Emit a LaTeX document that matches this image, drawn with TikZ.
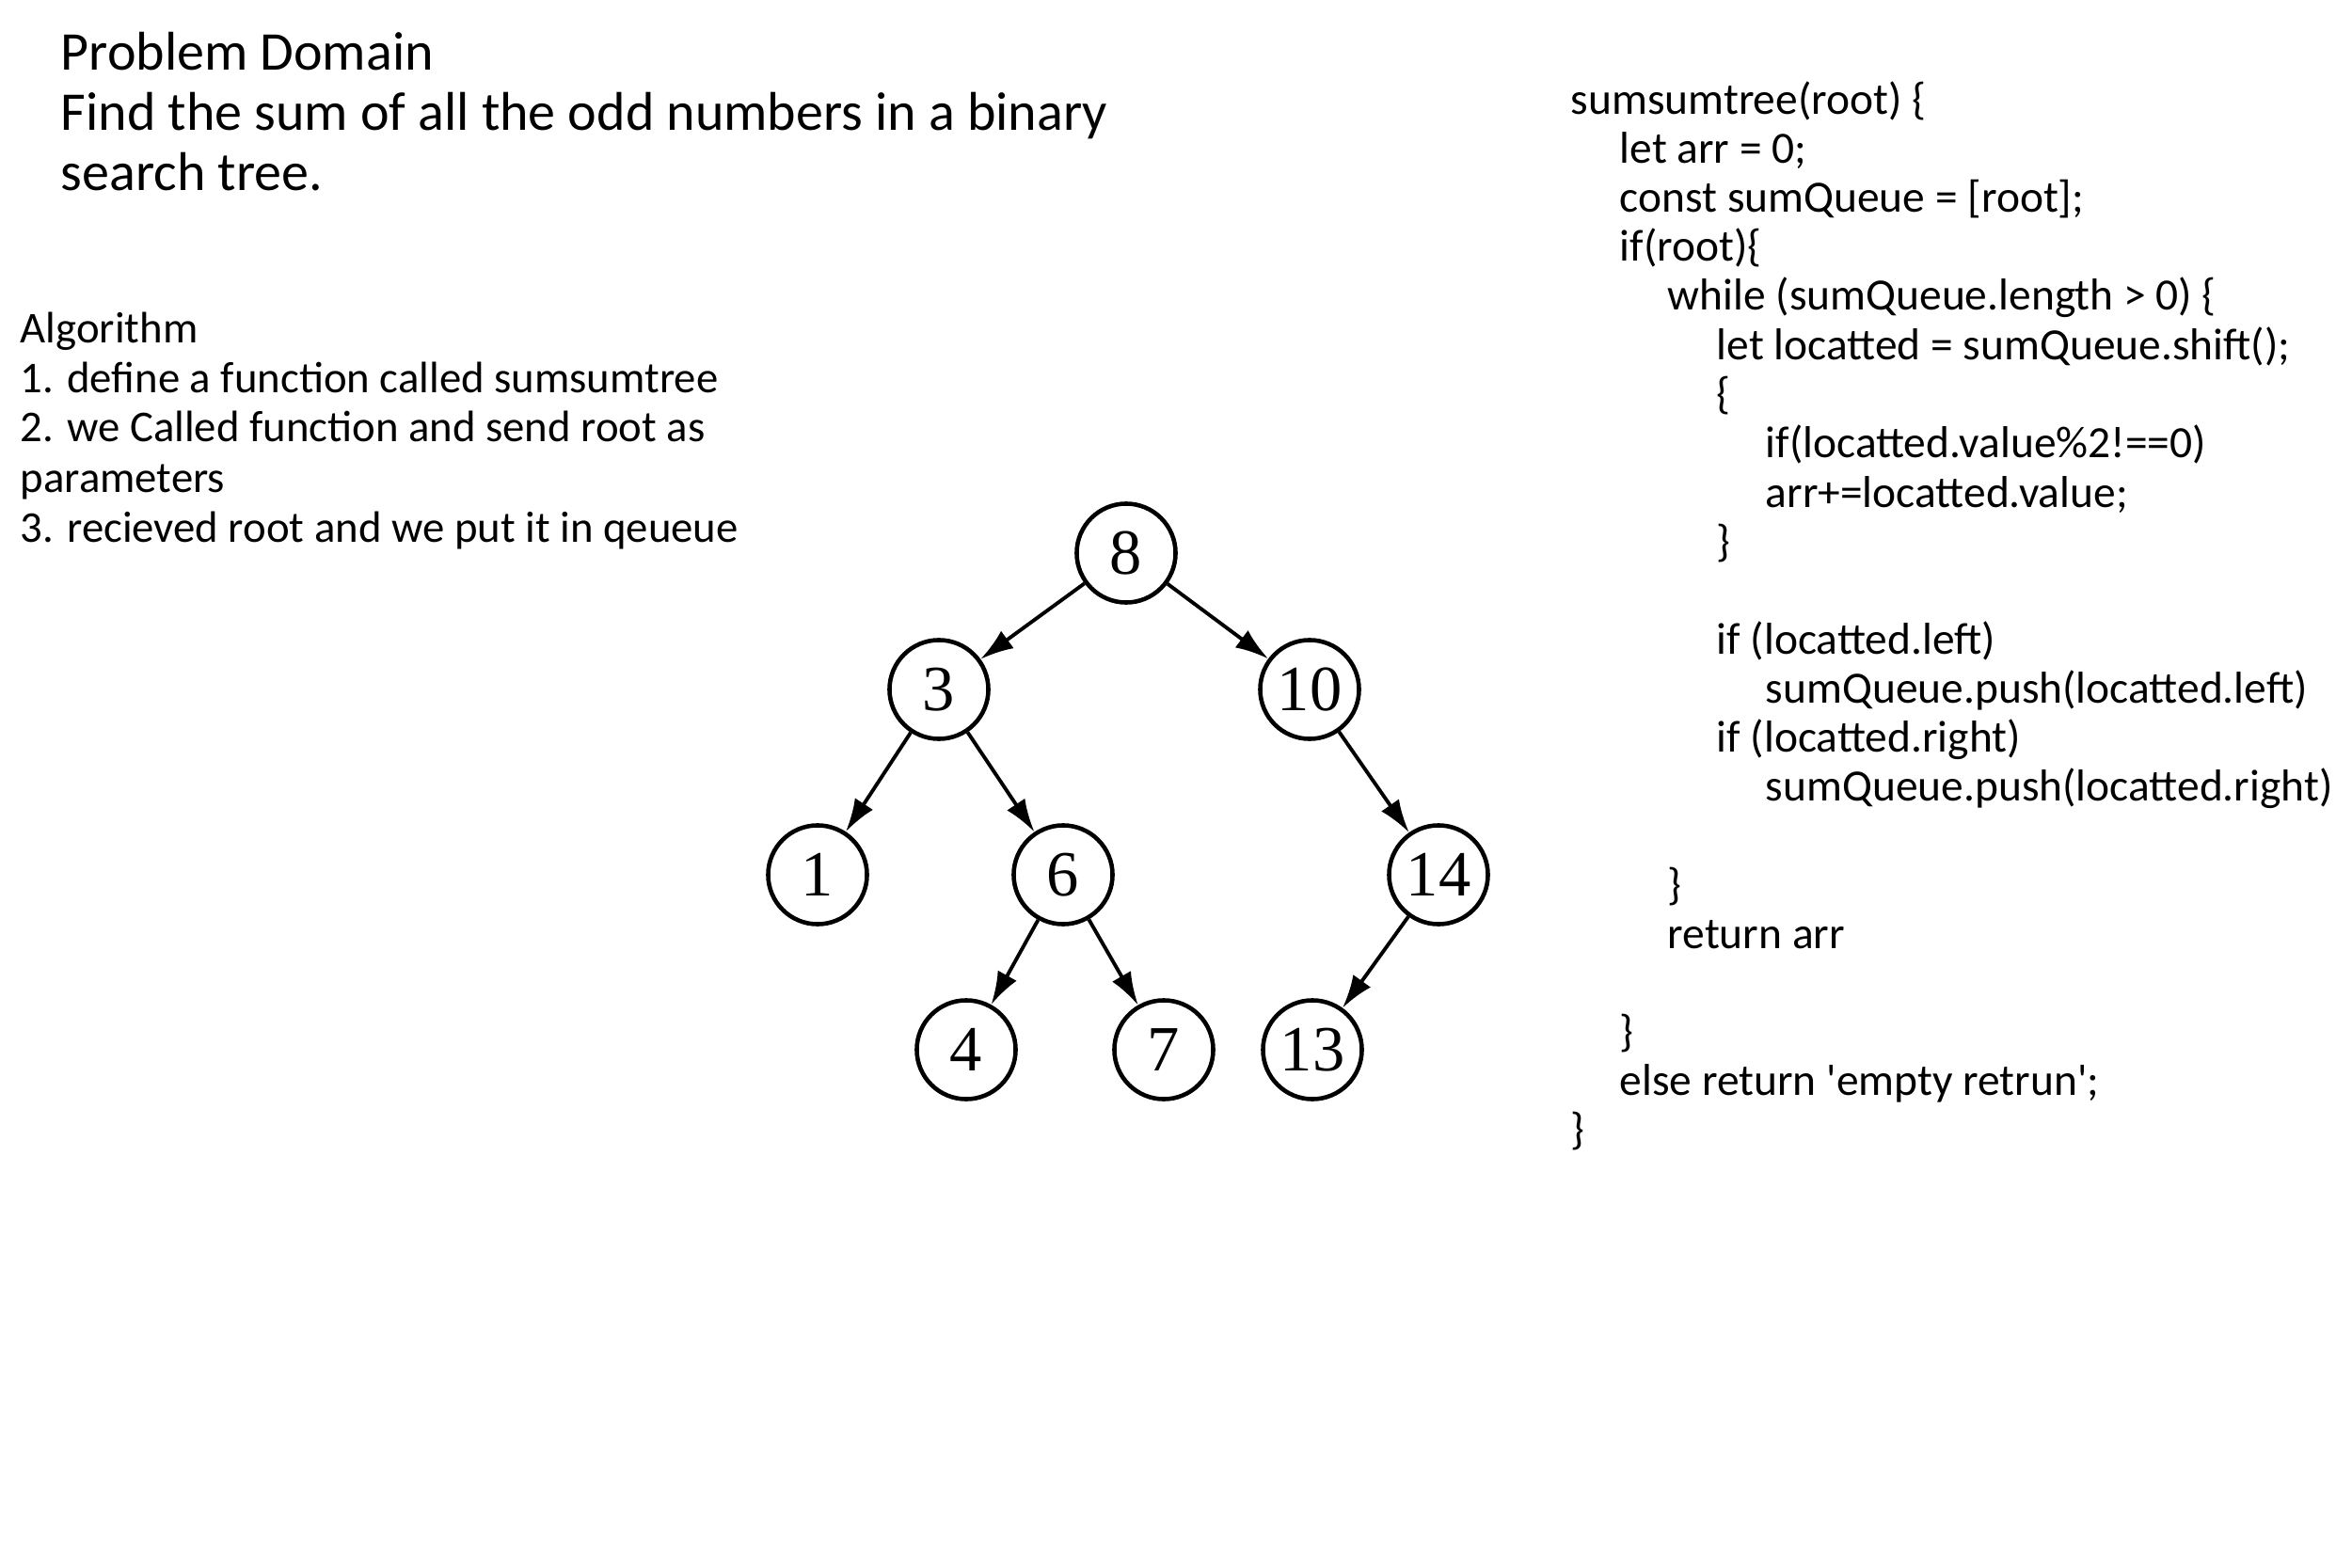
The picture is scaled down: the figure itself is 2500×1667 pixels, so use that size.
\documentclass[tikz,border=0pt]{standalone}
\usepackage{fontspec}
\setmainfont{Carlito}
\newfontfamily\treefont{Liberation Serif}
\usetikzlibrary{arrows.meta}

\tikzset{
  title/.style={anchor=base west, inner sep=0pt, font=\fontsize{16.5}{19}\selectfont},
  algo/.style={anchor=base west, inner sep=0pt, font=\fontsize{13.3}{15}\selectfont},
  code/.style={anchor=base west, inner sep=0pt, font=\fontsize{13.5}{15}\selectfont},
  key/.style={circle, draw, line width=1.3pt, minimum size=1.05cm, inner sep=0pt,
    font=\treefont\fontsize{19.5}{20}\selectfont},
  edge/.style={line width=1.1pt, -{Latex[length=10pt,width=6.5pt]}}
}

\begin{document}
\begin{tikzpicture}[x=0.01cm, y=-0.01cm]
    \useasboundingbox (0,0) rectangle (2500,1667);
  % Below nodes are the problem text.
    \node[title] (prob)  at (64,75)  {Problem Domain};
    \node[title] (find)  at (64,139) {Find the sum of all the odd numbers in a binary};
    \node[title] (bst)   at (64,203) {search tree.};
  % Algorithm steps.
    \node[algo] (alg)   at (21,365) {Algorithm};
    \node[algo] (step1) at (21,418) {1. define a function called sumsumtree};
    \node[algo] (step2) at (21,470) {2. we Called function and send root as};
    \node[algo] (step2b) at (21,523) {parameters};
    \node[algo] (step3) at (21,576) {3. recieved root and we put it in qeueue};
  % This draws the tree.
    \node[key] (n8)  at (1197,588)  {8};
    \node[key] (n3)  at (998,733)   {3};
    \node[key] (n10) at (1392,733)  {10};
    \node[key] (n1)  at (869,930)   {1};
    \node[key] (n6)  at (1130,930)  {6};
    \node[key] (n14) at (1529,930)  {14};
    \node[key] (n4)  at (1027,1116) {4};
    \node[key] (n7)  at (1237,1116) {7};
    \node[key] (n13) at (1395,1116) {13};
    \draw[edge] (n8) -- (n3);
    \draw[edge] (n8) -- (n10);
    \draw[edge] (n3) -- (n1);
    \draw[edge] (n3) -- (n6);
    \draw[edge] (n10) -- (n14);
    \draw[edge] (n6) -- (n4);
    \draw[edge] (n6) -- (n7);
    \draw[edge] (n14) -- (n13);
  % Below nodes are the code lines.
    \node[code] (c0)  at (1669,122)  {sumsumtree(root) \{};
    \node[code] (c1)  at (1721,174)  {let arr = 0;};
    \node[code] (c2)  at (1721,226)  {const sumQueue = [root];};
    \node[code] (c3)  at (1721,278)  {if(root)\{};
    \node[code] (c4)  at (1772,330)  {while (sumQueue.length > 0) \{};
    \node[code] (c5)  at (1824,383)  {let locatted = sumQueue.shift();};
    \node[code] (c6)  at (1824,435)  {\{};
    \node[code] (c7)  at (1876,487)  {if(locatted.value\%2!==0)};
    \node[code] (c8)  at (1876,539)  {arr+=locatted.value;};
    \node[code] (c9)  at (1824,591)  {\}};
    \node[code] (c11) at (1824,695)  {if (locatted.left)};
    \node[code] (c12) at (1876,747)  {sumQueue.push(locatted.left)};
    \node[code] (c13) at (1824,799)  {if (locatted.right)};
    \node[code] (c14) at (1876,851)  {sumQueue.push(locatted.right)};
    \node[code] (c16) at (1772,956)  {\}};
    \node[code] (c17) at (1772,1008) {return arr};
    \node[code] (c19) at (1721,1112) {\}};
    \node[code] (c20) at (1721,1164) {else return \textquotesingle empty retrun\textquotesingle;};
    \node[code] (c21) at (1669,1216) {\}};
\end{tikzpicture}
\end{document}
